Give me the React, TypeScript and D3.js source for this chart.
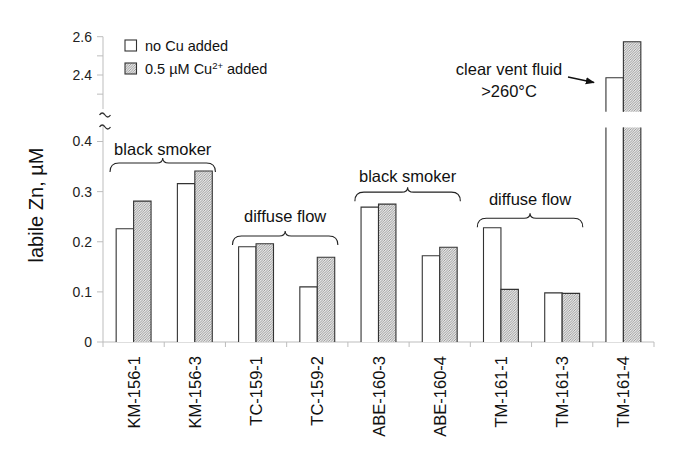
import React, { useRef, useEffect } from "react";
import * as d3 from "d3";

// sample sites
const categories = ["KM-156-1", "KM-156-3", "TC-159-1", "TC-159-2", "ABE-160-3", "ABE-160-4", "TM-161-1", "TM-161-3", "TM-161-4"];
// labile Zn (uM)
const noCu = [0.226, 0.316, 0.190, 0.110, 0.269, 0.172, 0.228, 0.098, 2.386];
const withCu = [0.281, 0.341, 0.196, 0.169, 0.275, 0.189, 0.105, 0.097, 2.574];

const lowerTicks = [0, 0.1, 0.2, 0.3, 0.4];
const upperTicks = [2.3, 2.4, 2.5, 2.6];
const upperTickLabels = [2.4, 2.6];

// site groups (brace annotations)
const groupLabels = ["black smoker", "diffuse flow", "black smoker", "diffuse flow"];
const groupFrom = [0, 2, 4, 6];
const groupTo = [1, 3, 5, 7];
const groupBraceLevel = [0.357, 0.2115, 0.299, 0.247];
const groupTextLevel = [0.373, 0.239, 0.319, 0.273];

const seriesNames = ["no Cu added", "0.5 \u00b5M Cu"];

const App = () => {
  const svgRef = useRef(null);
  const width = 685;
  const height = 466;

  useEffect(() => {
    const svg = d3.select(svgRef.current);
    svg.selectAll("*").remove();
    const font = "'Liberation Sans', Arial, sans-serif";

    const defs = svg.append("defs");
    const pat = defs.append("pattern")
      .attr("id", "hatch")
      .attr("patternUnits", "userSpaceOnUse")
      .attr("width", 2.5)
      .attr("height", 2.5);
    pat.append("rect").attr("width", 2.5).attr("height", 2.5).attr("fill", "#e6e6e6");
    pat.append("path")
      .attr("d", "M-1,1 l2,-2 M0,2.5 l2.5,-2.5 M1.5,3.5 l2,-2")
      .attr("stroke", "#8c8c8c")
      .attr("stroke-width", 0.8);

    const x = d3.scaleBand().domain(categories).range([103, 654]);
    const bw = x.bandwidth();
    const xSub = d3.scaleBand().domain(["a", "b"]).range([bw * 0.215, bw * 0.785]);

    // broken axis: two linear scales
    const yLow = d3.scaleLinear().domain([0, 0.4]).range([342, 141.5]);
    const yUp = d3.scaleLinear().domain([2.4, 2.6]).range([75, 36.7]);
    const lowMax = 0.428;
    const upMin = 2.208;

    const axisColor = "#bdbdbd";

    // y axis lines
    svg.append("line")
      .attr("x1", 103).attr("x2", 103)
      .attr("y1", yUp(2.6)).attr("y2", yUp(2.222))
      .attr("stroke", axisColor);
    svg.append("line")
      .attr("x1", 103).attr("x2", 103)
      .attr("y1", yLow(0.43)).attr("y2", yLow(0))
      .attr("stroke", axisColor);

    // ticks
    svg.selectAll(".tl")
      .data(lowerTicks)
      .enter()
      .append("line")
      .attr("x1", 97).attr("x2", 103)
      .attr("y1", d => yLow(d)).attr("y2", d => yLow(d))
      .attr("stroke", axisColor);
    svg.selectAll(".tlt")
      .data(lowerTicks)
      .enter()
      .append("text")
      .attr("x", 92)
      .attr("y", d => yLow(d))
      .attr("dy", "0.35em")
      .attr("text-anchor", "end")
      .style("font-family", font)
      .style("font-size", "14px")
      .attr("fill", "#222")
      .text(d => (d === 0 ? "0" : d3.format(".1f")(d)));

    svg.selectAll(".tu")
      .data(upperTicks)
      .enter()
      .append("line")
      .attr("x1", 97).attr("x2", 103)
      .attr("y1", d => yUp(d)).attr("y2", d => yUp(d))
      .attr("stroke", axisColor);
    svg.selectAll(".tut")
      .data(upperTickLabels)
      .enter()
      .append("text")
      .attr("x", 92)
      .attr("y", d => yUp(d))
      .attr("dy", "0.35em")
      .attr("text-anchor", "end")
      .style("font-family", font)
      .style("font-size", "14px")
      .attr("fill", "#222")
      .text(d => d3.format(".1f")(d));

    // break marks on the axis
    [114, 126].forEach(yy => {
      svg.append("path")
        .attr("d", `M99.5,${yy + 1} q2.75,-4 5.5,0 t5.5,0`)
        .attr("fill", "none")
        .attr("stroke", "#333")
        .attr("stroke-width", 1.3);
    });

    // y title
    svg.append("text")
      .attr("transform", "translate(43, 205) rotate(-90)")
      .attr("text-anchor", "middle")
      .style("font-family", font)
      .style("font-size", "20px")
      .attr("fill", "#111")
      .text("labile Zn, \u00b5M");

    // x axis
    svg.append("line")
      .attr("x1", 103).attr("x2", 654)
      .attr("y1", yLow(0)).attr("y2", yLow(0))
      .attr("stroke", axisColor);
    const bounds = categories.map(c => x(c)).concat([654]);
    svg.selectAll(".xt")
      .data(bounds)
      .enter()
      .append("line")
      .attr("x1", d => d).attr("x2", d => d)
      .attr("y1", yLow(0)).attr("y2", yLow(0) + 5)
      .attr("stroke", axisColor);
    svg.selectAll(".xl")
      .data(categories)
      .enter()
      .append("text")
      .attr("transform", d => `translate(${x(d) + bw / 2 + 6}, 356) rotate(-90)`)
      .attr("text-anchor", "end")
      .style("font-family", font)
      .style("font-size", "16.5px")
      .attr("fill", "#111")
      .text(d => d);

    // bars
    const bars = [];
    categories.forEach((c, i) => {
      bars.push({ c, s: "a", v: noCu[i] });
      bars.push({ c, s: "b", v: withCu[i] });
    });

    const g = svg.append("g");
    bars.forEach(b => {
      const x0 = x(b.c) + xSub(b.s);
      const x1 = x0 + xSub.bandwidth();
      const fill = b.s === "a" ? "#fff" : "url(#hatch)";
      const base = yLow(0);
      if (b.v <= lowMax) {
        const top = yLow(b.v);
        g.append("rect").attr("x", x0).attr("y", top).attr("width", x1 - x0).attr("height", base - top).attr("fill", fill);
        g.append("path")
          .attr("d", `M${x0},${base} V${top} H${x1} V${base}`)
          .attr("fill", "none").attr("stroke", "#333").attr("stroke-width", 1.1);
      } else {
        const cut = yLow(lowMax);
        g.append("rect").attr("x", x0).attr("y", cut).attr("width", x1 - x0).attr("height", base - cut).attr("fill", fill);
        g.append("path")
          .attr("d", `M${x0},${cut} V${base} M${x1},${cut} V${base}`)
          .attr("fill", "none").attr("stroke", "#333").attr("stroke-width", 1.1);
        const top = yUp(b.v);
        const bot = yUp(upMin);
        g.append("rect").attr("x", x0).attr("y", top).attr("width", x1 - x0).attr("height", bot - top).attr("fill", fill);
        g.append("path")
          .attr("d", `M${x0},${bot} V${top} H${x1} V${bot}`)
          .attr("fill", "none").attr("stroke", "#333").attr("stroke-width", 1.1);
      }
    });

    // group braces
    groupLabels.forEach((lab, i) => {
      const xa = x(categories[groupFrom[i]]) + 7;
      const xb = x(categories[groupTo[i]]) + bw - 10;
      const xm = (xa + xb) / 2;
      const yl = yLow(groupBraceLevel[i]);
      const d = `M${xa},${yl + 9} Q${xa},${yl} ${xa + 9},${yl} L${xm - 6},${yl} Q${xm},${yl} ${xm},${yl - 5} Q${xm},${yl} ${xm + 6},${yl} L${xb - 9},${yl} Q${xb},${yl} ${xb},${yl + 9}`;
      svg.append("path")
        .attr("d", d)
        .attr("fill", "none")
        .attr("stroke", "#222")
        .attr("stroke-width", 1.1);
      svg.append("text")
        .attr("x", xm)
        .attr("y", yLow(groupTextLevel[i]))
        .attr("text-anchor", "middle")
        .style("font-family", font)
        .style("font-size", "16.5px")
        .attr("fill", "#111")
        .text(lab);
    });

    // clear vent annotation
    const ann = svg.append("g").style("font-family", font).style("font-size", "16.5px").attr("fill", "#111");
    ann.append("text").attr("x", 509).attr("y", 75).attr("text-anchor", "middle").text("clear vent fluid");
    ann.append("text").attr("x", 509).attr("y", 97).attr("text-anchor", "middle").text(">260\u00b0C");
    defs.append("marker")
      .attr("id", "arr")
      .attr("viewBox", "0 0 10 10")
      .attr("refX", 9).attr("refY", 5)
      .attr("markerWidth", 7).attr("markerHeight", 7)
      .attr("orient", "auto")
      .append("path").attr("d", "M0,1 L10,5 L0,9 z").attr("fill", "#111");
    svg.append("line")
      .attr("x1", 568).attr("y1", 77)
      .attr("x2", 594).attr("y2", 82.5)
      .attr("stroke", "#111").attr("stroke-width", 1.3)
      .attr("marker-end", "url(#arr)");

    // legend
    const leg = svg.append("g").attr("transform", "translate(125, 40)");
    [0, 1].forEach(i => {
      leg.append("rect")
        .attr("x", 0).attr("y", i * 23)
        .attr("width", 11.5).attr("height", 11)
        .attr("fill", i === 0 ? "#fff" : "url(#hatch)")
        .attr("stroke", "#333").attr("stroke-width", 1.1);
      const t = leg.append("text")
        .attr("x", 20).attr("y", i * 23 + 10.5)
        .style("font-family", font)
        .style("font-size", "14.5px")
        .attr("fill", "#111")
        .text(seriesNames[i]);
      if (i === 1) {
        t.append("tspan").attr("dy", -5).style("font-size", "9.5px").text("2+");
        t.append("tspan").attr("dy", 5).text(" added");
      }
    });
  }, []);

  return (
    <div style={{ position: "absolute", left: 0, top: 0 }}>
      <svg ref={svgRef} width={width} height={height} style={{ display: "block", background: "#fff" }}></svg>
    </div>
  );
};

export default App;
